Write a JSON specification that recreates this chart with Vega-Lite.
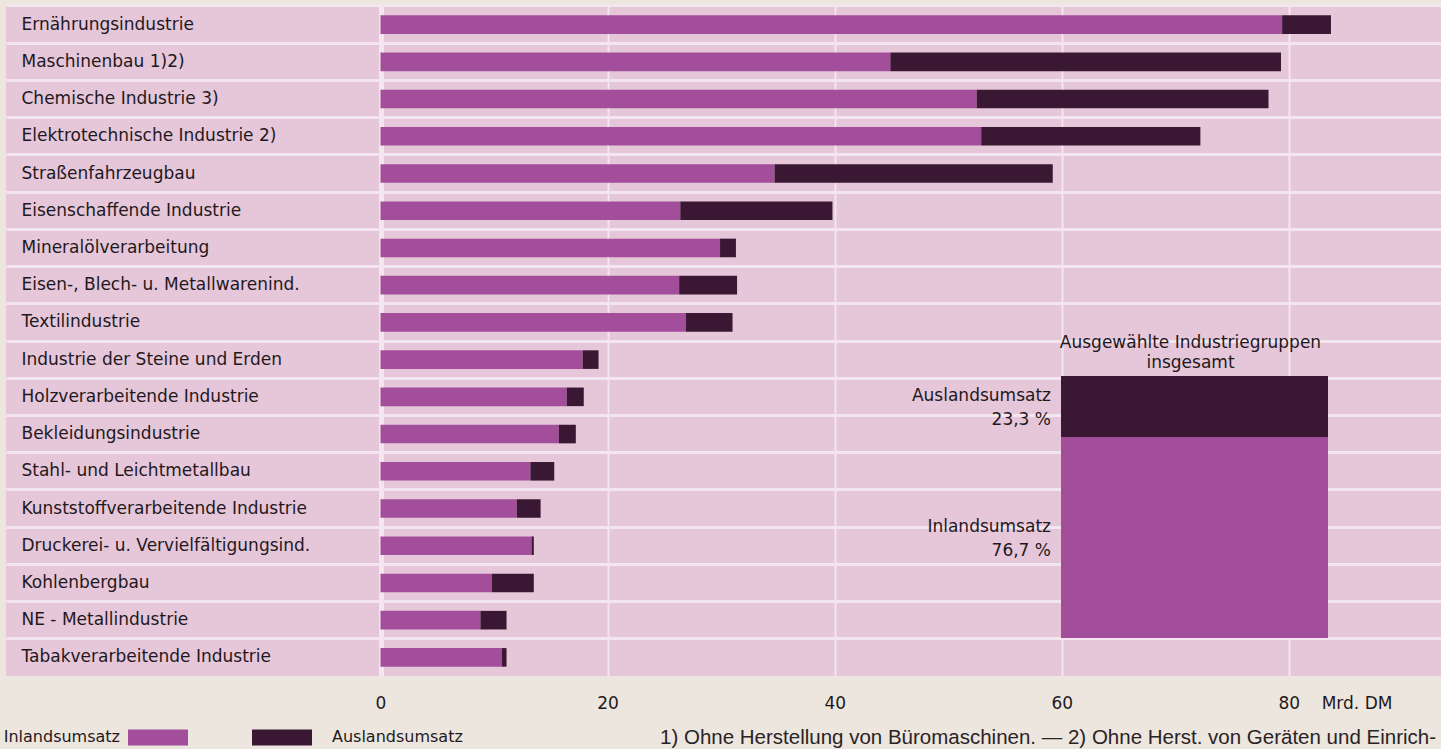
{
  "$schema": "https://vega.github.io/schema/vega-lite/v6.json",
  "width": 1435,
  "height": 670,
  "autosize": {"type": "none"},
  "padding": {"left": 6, "top": 6, "right": 0, "bottom": 73},
  "background": "#ece6de",
  "config": {
    "view": {"fill": "#e6c6d9", "stroke": null},
    "font": "DejaVu Sans"
  },
  "title": {
    "text": "1) Ohne Herstellung von Büromaschinen. — 2) Ohne Herst. von Geräten und Einrich-",
    "orient": "bottom",
    "anchor": "end",
    "frame": "group",
    "font": "Liberation Sans",
    "fontSize": 20.5,
    "fontWeight": "normal",
    "color": "#2a2326",
    "offset": -18,
    "dx": -5
  },
  "datasets": {
    "umsatz": [
      {"industrie": "Ernährungsindustrie", "anteil": "Inlandsumsatz", "wert": 79.4},
      {"industrie": "Ernährungsindustrie", "anteil": "Auslandsumsatz", "wert": 4.3},
      {"industrie": "Maschinenbau 1)2)", "anteil": "Inlandsumsatz", "wert": 44.9},
      {"industrie": "Maschinenbau 1)2)", "anteil": "Auslandsumsatz", "wert": 34.4},
      {"industrie": "Chemische Industrie 3)", "anteil": "Inlandsumsatz", "wert": 52.5},
      {"industrie": "Chemische Industrie 3)", "anteil": "Auslandsumsatz", "wert": 25.7},
      {"industrie": "Elektrotechnische Industrie 2)", "anteil": "Inlandsumsatz", "wert": 52.9},
      {"industrie": "Elektrotechnische Industrie 2)", "anteil": "Auslandsumsatz", "wert": 19.3},
      {"industrie": "Straßenfahrzeugbau", "anteil": "Inlandsumsatz", "wert": 34.7},
      {"industrie": "Straßenfahrzeugbau", "anteil": "Auslandsumsatz", "wert": 24.5},
      {"industrie": "Eisenschaffende Industrie", "anteil": "Inlandsumsatz", "wert": 26.4},
      {"industrie": "Eisenschaffende Industrie", "anteil": "Auslandsumsatz", "wert": 13.4},
      {"industrie": "Mineralölverarbeitung", "anteil": "Inlandsumsatz", "wert": 29.9},
      {"industrie": "Mineralölverarbeitung", "anteil": "Auslandsumsatz", "wert": 1.4},
      {"industrie": "Eisen-, Blech- u. Metallwarenind.", "anteil": "Inlandsumsatz", "wert": 26.3},
      {"industrie": "Eisen-, Blech- u. Metallwarenind.", "anteil": "Auslandsumsatz", "wert": 5.1},
      {"industrie": "Textilindustrie", "anteil": "Inlandsumsatz", "wert": 26.9},
      {"industrie": "Textilindustrie", "anteil": "Auslandsumsatz", "wert": 4.1},
      {"industrie": "Industrie der Steine und Erden", "anteil": "Inlandsumsatz", "wert": 17.8},
      {"industrie": "Industrie der Steine und Erden", "anteil": "Auslandsumsatz", "wert": 1.4},
      {"industrie": "Holzverarbeitende Industrie", "anteil": "Inlandsumsatz", "wert": 16.4},
      {"industrie": "Holzverarbeitende Industrie", "anteil": "Auslandsumsatz", "wert": 1.5},
      {"industrie": "Bekleidungsindustrie", "anteil": "Inlandsumsatz", "wert": 15.7},
      {"industrie": "Bekleidungsindustrie", "anteil": "Auslandsumsatz", "wert": 1.5},
      {"industrie": "Stahl- und Leichtmetallbau", "anteil": "Inlandsumsatz", "wert": 13.2},
      {"industrie": "Stahl- und Leichtmetallbau", "anteil": "Auslandsumsatz", "wert": 2.1},
      {"industrie": "Kunststoffverarbeitende Industrie", "anteil": "Inlandsumsatz", "wert": 12.0},
      {"industrie": "Kunststoffverarbeitende Industrie", "anteil": "Auslandsumsatz", "wert": 2.1},
      {"industrie": "Druckerei- u. Vervielfältigungsind.", "anteil": "Inlandsumsatz", "wert": 13.3},
      {"industrie": "Druckerei- u. Vervielfältigungsind.", "anteil": "Auslandsumsatz", "wert": 0.2},
      {"industrie": "Kohlenbergbau", "anteil": "Inlandsumsatz", "wert": 9.8},
      {"industrie": "Kohlenbergbau", "anteil": "Auslandsumsatz", "wert": 3.7},
      {"industrie": "NE - Metallindustrie", "anteil": "Inlandsumsatz", "wert": 8.8},
      {"industrie": "NE - Metallindustrie", "anteil": "Auslandsumsatz", "wert": 2.3},
      {"industrie": "Tabakverarbeitende Industrie", "anteil": "Inlandsumsatz", "wert": 10.7},
      {"industrie": "Tabakverarbeitende Industrie", "anteil": "Auslandsumsatz", "wert": 0.4}
    ],
    "gesamt": [
      {"gruppe": "insgesamt", "anteil": "Auslandsumsatz", "prozent": 23.3, "beschriftung": "Auslandsumsatz\n23,3 %"},
      {"gruppe": "insgesamt", "anteil": "Inlandsumsatz", "prozent": 76.7, "beschriftung": "Inlandsumsatz\n76,7 %"}
    ],
    "titel": [
      {"gruppe": "insgesamt", "prozent": 100, "titel": "Ausgewählte Industriegruppen\ninsgesamt"}
    ]
  },
  "layer": [
    {
      "data": {"name": "umsatz"},
      "mark": {"type": "bar"},
      "encoding": {
        "y": {
          "field": "industrie",
          "type": "nominal",
          "sort": null,
          "scale": {"paddingInner": 0.5, "paddingOuter": 0.25},
          "axis": {
            "title": null,
            "orient": "left",
            "ticks": false,
            "tickSize": 0,
            "domain": false,
            "labelAlign": "left",
            "labelBaseline": "middle",
            "labelPadding": -15,
            "labelFont": "DejaVu Sans",
            "labelFontSize": 17,
            "labelColor": "#1f191d",
            "labelLimit": 400,
            "grid": true,
            "gridColor": "#f4e6ee",
            "gridWidth": 3,
            "bandPosition": -0.5
          }
        },
        "x": {
          "field": "wert",
          "type": "quantitative",
          "stack": "zero",
          "scale": {"domain": [-32.98, 93.39], "nice": false, "zero": false},
          "axis": {
            "title": null,
            "orient": "bottom",
            "values": [0, 20, 40, 60, 80],
            "ticks": false,
            "tickSize": 0,
            "domain": false,
            "labelPadding": 19,
            "labelFont": "DejaVu Sans",
            "labelFontSize": 17,
            "labelColor": "#1f191d",
            "labelFlush": false,
            "labelOverlap": false,
            "labelExpr": "datum.value === 80 ? '80\u00a0\u00a0\u00a0\u00a0Mrd. DM' : datum.label",
            "labelAlign": {"condition": {"test": "datum.value === 80", "value": "left"}, "value": "center"},
            "labelOffset": {"condition": {"test": "datum.value === 80", "value": -11}, "value": 0},
            "grid": true,
            "gridColor": "#f4e6ee",
            "gridWidth": {"condition": {"test": "datum.value === 0", "value": 5}, "value": 2}
          }
        },
        "color": {
          "field": "anteil",
          "type": "nominal",
          "scale": {"domain": ["Inlandsumsatz", "Auslandsumsatz"], "range": ["#a24e9b", "#3a1833"]},
          "legend": {
            "orient": "none",
            "legendX": 122,
            "legendY": 701,
            "direction": "horizontal",
            "title": null,
            "padding": 0,
            "symbolType": "M-1,-0.267H1V0.267H-1Z",
            "symbolSize": 3600,
            "symbolStrokeWidth": 0,
            "labelFont": "DejaVu Sans",
            "labelFontSize": 16,
            "labelColor": "#1f191d",
            "labelOffset": 20,
            "labelLimit": 300,
            "columnPadding": 64,
            "encode": {
              "labels": {
                "update": {
                  "align": {"signal": "datum.value === 'Inlandsumsatz' ? 'right' : 'left'"},
                  "dx": {"signal": "datum.value === 'Inlandsumsatz' ? -88 : 0"}
                }
              }
            }
          }
        },
        "order": {"field": "anteil", "sort": "descending"}
      }
    },
    {
      "layer": [
        {
          "data": {"name": "gesamt"},
          "transform": [
            {"stack": "prozent", "groupby": ["gruppe"], "as": ["lo", "hi"], "sort": [{"field": "anteil", "order": "descending"}]}
          ],
          "mark": {"type": "bar"},
          "encoding": {
            "x": {"field": "gruppe", "type": "nominal", "scale": {"range": [1055, 1322], "paddingInner": 0, "paddingOuter": 0}, "axis": null},
            "y": {"field": "lo", "type": "quantitative", "scale": {"domain": [0, 100], "range": [632, 370], "nice": false}, "axis": null},
            "y2": {"field": "hi"},
            "color": {"field": "anteil", "type": "nominal"}
          }
        },
        {
          "data": {"name": "gesamt"},
          "transform": [
            {"stack": "prozent", "groupby": ["gruppe"], "as": ["lo", "hi"], "sort": [{"field": "anteil", "order": "descending"}]},
            {"calculate": "(datum.lo + datum.hi) / 2", "as": "mitte"}
          ],
          "mark": {"type": "text", "align": "right", "baseline": "middle", "dx": -10, "dy": -11, "lineBreak": "\n", "lineHeight": 24, "font": "DejaVu Sans", "fontSize": 17, "color": "#1f191d"},
          "encoding": {
            "x": {"field": "gruppe", "type": "nominal", "bandPosition": 0},
            "y": {"field": "mitte", "type": "quantitative"},
            "text": {"field": "beschriftung"}
          }
        },
        {
          "data": {"name": "titel"},
          "mark": {"type": "text", "align": "center", "baseline": "bottom", "dy": -24, "dx": -4, "lineBreak": "\n", "lineHeight": 20, "font": "DejaVu Sans", "fontSize": 17, "color": "#1f191d"},
          "encoding": {
            "x": {"field": "gruppe", "type": "nominal", "bandPosition": 0.5},
            "y": {"field": "prozent", "type": "quantitative"},
            "text": {"field": "titel"}
          }
        }
      ]
    }
  ],
  "resolve": {"scale": {"x": "independent", "y": "independent"}}
}
